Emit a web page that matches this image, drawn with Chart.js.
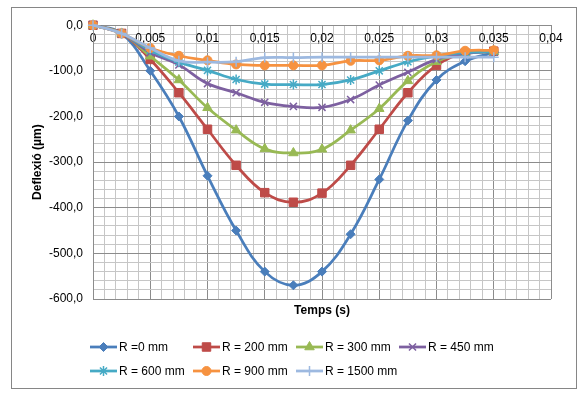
<!DOCTYPE html>
<html>
<head>
<meta charset="utf-8">
<script src="https://cdn.jsdelivr.net/npm/chart.js@4/dist/chart.umd.min.js"></script>
<style>
  html, body { margin: 0; padding: 0; background: #fff; }
  #frame {
    position: absolute; left: 11px; top: 7px;
    width: 566px; height: 382px;
    box-sizing: border-box; border: 1px solid #868686;
  }
  canvas { display: block; }
</style>
</head>
<body>
<div id="frame"><canvas id="grafico" width="564" height="380"></canvas></div>
<script>
// temps (s) de cada mesura
const temps = [0, 0.0025, 0.005, 0.0075, 0.01, 0.0125, 0.015, 0.0175, 0.02, 0.0225, 0.025, 0.0275, 0.03, 0.0325, 0.035];

// deflexió (µm) per cada distància R
const r0    = [0, -18, -100, -200, -330, -450, -540, -570, -540, -458, -338, -209, -120, -79, -60];
const r200  = [0, -18, -75, -148, -228, -307, -367, -388, -368, -307, -228, -148, -88, -61, -57];
const r300  = [0, -18, -68, -120, -181, -230, -271, -280, -272, -230, -183, -122, -80, -62, -58];
const r450  = [0, -18, -60, -87, -128, -148, -169, -178, -180, -163, -131, -103, -75, -62, -58];
const r600  = [0, -18, -55, -81, -99, -119, -129, -130, -130, -120, -100, -80, -67, -60, -58];
const r900  = [0, -18, -50, -67, -77, -86, -88, -88, -88, -78, -77, -67, -66, -56, -55];
const r1500 = [0, -18, -50, -78, -81, -80, -71, -71, -70, -70, -70, -70, -70, -70, -70];

const etiquetes = ['R =0 mm', 'R = 200 mm', 'R = 300 mm', 'R = 450 mm', 'R = 600 mm', 'R = 900 mm', 'R = 1500 mm'];
const series = [r0, r200, r300, r450, r600, r900, r1500];

const colors = ['#4A7EBB', '#BE4B48', '#98B954', '#7D60A0', '#46AAC5', '#F69240', '#9DB9E0'];
const estils = ['rectRot', 'rect', 'triangle', 'crossRot', 'star', 'circle', 'cross'];
const radis  = [4.5, 6, 5.5, 5, 5, 4.5, 5];

const FONT = '"Liberation Sans", Arial, sans-serif';

function esMultiple(v, pas) {
    const q = v / pas;
    return Math.abs(q - Math.round(q)) < 1e-6;
}

const datasets = series.map((s, i) => ({
    label: etiquetes[i],
    data: s.map((v, j) => ({ x: temps[j], y: v })),
    borderColor: colors[i],
    backgroundColor: colors[i],
    borderWidth: 2.75,
    pointStyle: estils[i],
    pointRadius: radis[i],
    pointHoverRadius: radis[i],
    pointBorderWidth: (estils[i] === 'crossRot' || estils[i] === 'star' || estils[i] === 'cross') ? 1.5 : 1,
    tension: 0.4,
    fill: false,
    clip: false,
    order: series.length - i,
    xAxisID: 'x',
    yAxisID: 'y'
}));

// llegenda pròpia: línia + marcador, com a l'Excel
const llegenda = {
    id: 'llegenda',
    afterDraw(chart) {
        const ctx = chart.ctx;
        const cols = [78, 181, 284, 387];
        const files = [339, 363];
        ctx.save();
        ctx.font = '12px ' + FONT;
        ctx.textBaseline = 'middle';
        ctx.textAlign = 'left';
        chart.data.datasets.forEach((ds, i) => {
            const x = cols[i % 4];
            const y = files[Math.floor(i / 4)];
            ctx.strokeStyle = ds.borderColor;
            ctx.lineWidth = 2.75;
            ctx.beginPath();
            ctx.moveTo(x, y);
            ctx.lineTo(x + 27, y);
            ctx.stroke();
            ctx.fillStyle = ds.backgroundColor;
            ctx.lineWidth = ds.pointBorderWidth;
            Chart.helpers.drawPoint(ctx, {
                pointStyle: ds.pointStyle, radius: ds.pointRadius, rotation: 0, borderWidth: ds.pointBorderWidth
            }, x + 13.5, y);
            ctx.fillStyle = '#000';
            ctx.fillText(ds.label, x + 29, y + 0.5);
        });
        ctx.restore();
    }
};

new Chart(document.getElementById('grafico').getContext('2d'), {
    type: 'line',
    data: { datasets: datasets },
    plugins: [llegenda],
    options: {
        responsive: false,
        animation: false,
        layout: { padding: { top: 12, right: 25, bottom: 69, left: 0 } },
        plugins: { legend: { display: false }, tooltip: { enabled: false } },
        scales: {
            x: {
                type: 'linear',
                position: { y: 0 },
                min: 0, max: 0.04,
                afterFit(scale) { scale.height = 0; },
                ticks: {
                    stepSize: 0.001,
                    autoSkip: false,
                    maxRotation: 0,
                    padding: 6,
                    color: '#000',
                    font: { family: FONT, size: 12 },
                    callback(v) {
                        if (!esMultiple(v, 0.005)) return '';
                        return v === 0 ? '0' : String(+v.toFixed(3)).replace('.', ',');
                    }
                },
                grid: {
                    drawTicks: false,
                    color: (c) => esMultiple(c.tick.value, 0.005) ? '#8c8c8c' : '#c6c6c6',
                    lineWidth: 1
                },
                border: { display: true, color: '#8c8c8c' }
            },
            xt: {
                type: 'linear',
                position: 'bottom',
                axis: 'x',
                min: 0, max: 0.04,
                afterFit(scale) { scale.height = 20; },
                ticks: { display: false },
                grid: { display: false, drawTicks: false },
                border: { display: false },
                title: {
                    display: true,
                    text: 'Temps (s)',
                    color: '#000',
                    padding: { top: 0, bottom: 1 },
                    font: { family: FONT, size: 12, weight: 'bold' }
                }
            },
            y: {
                type: 'linear',
                min: -600, max: 0,
                afterFit(scale) { scale.width = 81; },
                ticks: {
                    stepSize: 20,
                    autoSkip: false,
                    padding: 10,
                    color: '#000',
                    font: { family: FONT, size: 12 },
                    callback(v) {
                        if (!esMultiple(v, 100)) return '';
                        return v.toFixed(1).replace('.', ',');
                    }
                },
                grid: {
                    drawTicks: false,
                    color: (c) => esMultiple(c.tick.value, 100) ? '#8c8c8c' : '#c6c6c6',
                    lineWidth: 1
                },
                border: { display: true, color: '#8c8c8c' },
                title: {
                    display: true,
                    text: 'Deflexió (µm)',
                    color: '#000',
                    padding: { top: 18, bottom: 0 },
                    font: { family: FONT, size: 12, weight: 'bold' }
                }
            }
        }
    }
});
</script>
</body>
</html>
